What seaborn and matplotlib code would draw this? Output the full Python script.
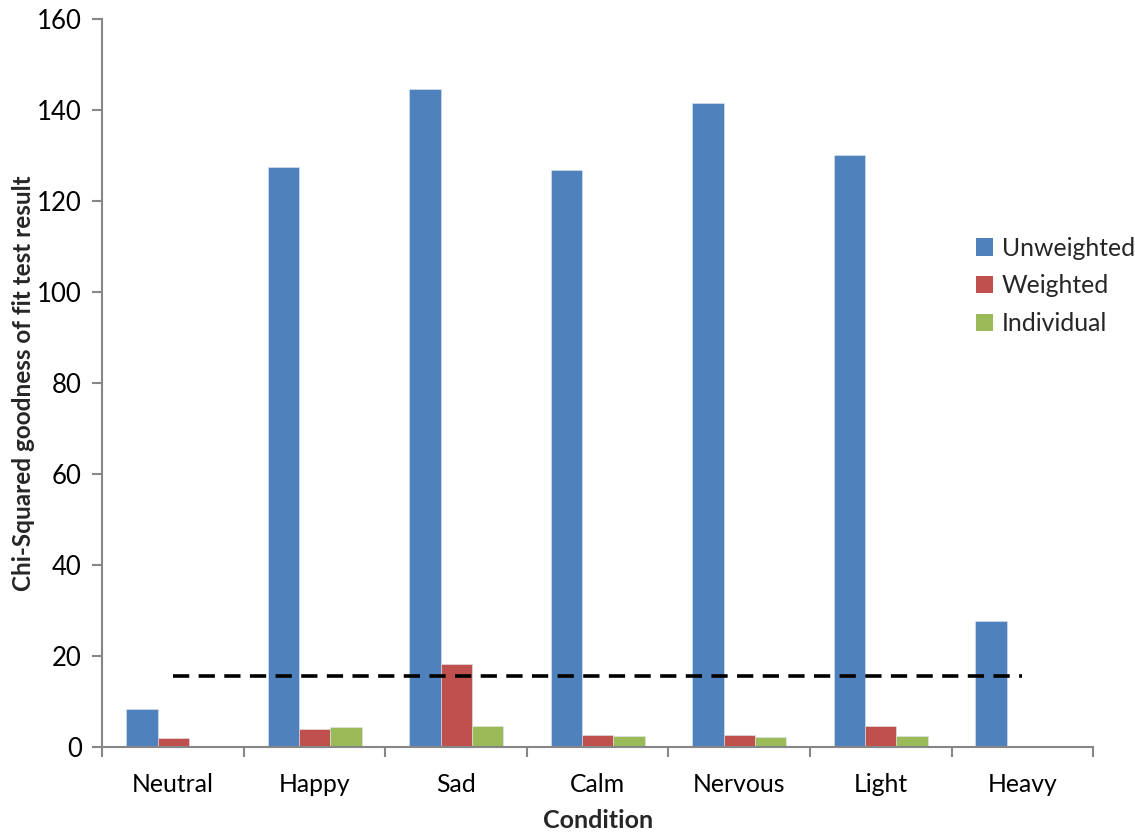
import matplotlib
matplotlib.use("Agg")
import matplotlib.pyplot as plt
import seaborn as sns
import pandas as pd
from matplotlib.patches import Patch

conditions = ["Neutral", "Happy", "Sad", "Calm", "Nervous", "Light", "Heavy"]
unweighted = [8.4, 127.5, 144.6, 126.8, 141.5, 130.1, 27.7]
weighted = [2.0, 3.9, 18.2, 2.7, 2.6, 4.6, 0.25]
individual = [0.0, 4.5, 4.6, 2.5, 2.1, 2.5, 0.2]
critical_value = 15.51

series_names = ["Unweighted", "Weighted", "Individual"]
palette = ["#4F81BD", "#C0504D", "#9BBB59"]

df = pd.DataFrame({
    "Condition": conditions * 3,
    "Series": sum([[s] * len(conditions) for s in series_names], []),
    "Value": unweighted + weighted + individual,
})

sns.set_theme(style="white")
plt.rcParams["font.family"] = ["Lato", "DejaVu Sans"]

fig = plt.figure(figsize=(11.35, 8.34), dpi=100)
ax = fig.add_axes([0.0903, 0.1043, 0.8727, 0.873])

sns.barplot(data=df, x="Condition", y="Value", hue="Series", order=conditions,
            hue_order=series_names, palette=palette, width=2 / 3, gap=0,
            saturation=1, edgecolor="#dfe6f0", linewidth=0.4, legend=False, ax=ax)

ax.hlines(critical_value, 0, len(conditions) - 1, colors="black",
          linestyles=(0, (4.5, 2.6)), linewidth=2.6, zorder=5)

ax.set_xlim(-0.5, len(conditions) - 0.5)
ax.set_ylim(0, 160)
ax.set_yticks(range(0, 161, 20))
ax.set_xticks([i - 0.5 for i in range(len(conditions) + 1)], minor=True)
ax.tick_params(axis="x", which="major", length=0, labelsize=17.8, pad=19, colors="black")
ax.tick_params(axis="x", which="minor", length=7, width=1.5, color="#868686", bottom=True)
ax.tick_params(axis="y", length=7, width=1.5, labelsize=18.5, pad=8,
               left=True, colors="black")
ax.tick_params(axis="y", color="#868686")

for side in ["top", "right"]:
    ax.spines[side].set_visible(False)
for side in ["left", "bottom"]:
    ax.spines[side].set_color("#868686")
    ax.spines[side].set_linewidth(1.5)

ax.set_xlabel("Condition", fontsize=18, fontweight="bold", labelpad=9)
ax.set_ylabel("Chi-Squared goodness of fit test result", fontsize=17.5,
              fontweight="bold", labelpad=1)

handles = [Patch(facecolor=c, edgecolor="none") for c in palette]
fig.legend(handles, series_names, loc="upper left", bbox_to_anchor=(0.84, 0.743),
           frameon=False, fontsize=17.8, handlelength=0.7, handleheight=0.7,
           handletextpad=0.35, labelspacing=0.6)

fig.savefig("out.png", dpi=100)
